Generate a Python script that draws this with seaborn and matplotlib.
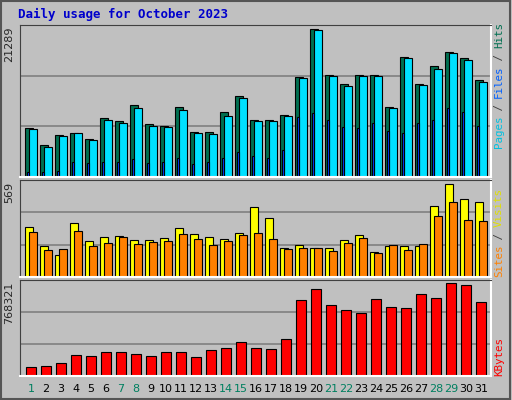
import numpy as np
import pandas as pd
import matplotlib
matplotlib.use("Agg")
import matplotlib.pyplot as plt
import seaborn as sns

days = list(range(1, 32))
k = 21289 / 440
hits_px = [146,95,125,131,113,176,168,215,158,152,209,134,134,194,242,170,170,185,299,440,305,278,305,305,209,359,278,332,374,356,290]
files_px = [143,89,122,131,110,170,161,206,152,149,200,131,128,182,236,167,167,182,296,437,302,272,302,302,206,356,275,323,371,350,284]
pages_px = [15,15,18,45,42,45,45,54,42,45,57,39,45,57,75,63,57,81,180,192,171,150,147,162,138,132,162,171,207,195,153]
hits = [round(v * k) for v in hits_px]
files = [round(v * k) for v in files_px]
pages = [round(v * k) for v in pages_px]
kv = 569 / 275
visits = [round(v * kv) for v in [149,92,65,158,107,119,122,110,110,116,143,128,119,113,131,206,173,86,95,86,86,110,125,74,92,92,92,209,275,230,221]]
sites = [round(v * kv) for v in [134,80,83,137,92,101,119,98,104,107,128,113,95,107,125,131,113,83,86,86,77,101,116,71,95,80,98,179,221,167,164]]
kb_k = 768321 / 274
kbytes = [round(v * kb_k) for v in [28,31,37,61,58,70,70,64,58,70,70,55,76,82,100,82,79,109,226,256,211,196,187,229,205,202,244,232,274,268,220]]
weekend = {1, 7, 8, 14, 15, 21, 22, 28, 29}

sns.set_style("white")
plt.rcParams['font.family'] = ['DejaVu Sans Mono', 'DejaVu Sans']

fig = plt.figure(figsize=(5.12, 4.0), dpi=100)
fig.patch.set_facecolor('#c0c0c0')
fig.patches.append(plt.Rectangle((0.002, 0.003), 0.994, 0.994, transform=fig.transFigure,
                                 fill=False, edgecolor='#555555', lw=1.5))

L, W = 20/512, 471/512
ax1 = fig.add_axes([L, 1-177/400, W, 152/400])
ax2 = fig.add_axes([L, 1-277/400, W, 97/400])
ax3 = fig.add_axes([L, 1-376/400, W, 96/400])

d = np.array(days, dtype=float)

def bars(ax, x, y, color, width):
    sns.barplot(x=x, y=y, native_scale=True, width=width, color=color,
                edgecolor='black', linewidth=0.8, ax=ax, saturation=1)

bars(ax1, d - 0.13, hits, '#006f50', 0.51)
bars(ax1, d + 0.13, files, '#00e0ff', 0.51)
bars(ax1, d - 0.18, pages, '#0040ff', 0.16)
bars(ax2, d - 0.13, visits, '#ffff00', 0.51)
bars(ax2, d + 0.13, sites, '#ff8000', 0.51)
bars(ax3, d, kbytes, '#ff0000', 0.7)

ylims = [21289*453/440, 569*286/275, 768321*284/274]
for ax, ym in zip([ax1, ax2, ax3], ylims):
    ax.set_facecolor('#c0c0c0')
    ax.set_xlim(0.27, 31.67)
    ax.set_ylim(0, ym)
    for f in (1/3, 2/3):
        ax.axhline(ym*f, color='#808080', lw=1.2, zorder=0)
    ax.set_xticks([]); ax.set_yticks([])
    ax.set_xlabel(''); ax.set_ylabel('')
    for s in ('left', 'top'):
        ax.spines[s].set_color('#404040')
    for s in ('right', 'bottom'):
        ax.spines[s].set_color('white')
        ax.spines[s].set_linewidth(1.5)

fig.text(18/512, 1-8/400, 'Daily usage for October 2023', color='#0000cc',
         fontsize=9, fontweight='bold', va='top', ha='left')

for y_top, lab in [(27, '21289'), (182, '569'), (282, '768321')]:
    fig.text(9/512, 1-y_top/400, lab, rotation=90, fontsize=8, va='top', ha='center',
             family=['DejaVu Sans'])

def right_label(y_bottom, parts):
    y = 1 - y_bottom/400
    for txt, col in parts:
        fig.text(499/512, y, txt, rotation=90, fontsize=7.8, color=col,
                 va='bottom', ha='center')
        y += len(txt) * 6.25/400

right_label(148, [('Pages', '#00c0e0'), (' / ', '#404040'), ('Files', '#0060ff'),
                  (' / ', '#404040'), ('Hits', '#006f50')])
right_label(277, [('Sites', '#ff8000'), (' / ', '#404040'), ('Visits', '#e0e000')])
right_label(376, [('KBytes', '#ff0000')])

for dd in days:
    x = L + W * (dd - 0.27) / (31.67 - 0.27)
    fig.text(x, 1-389/400, str(dd), fontsize=8, ha='center', va='center',
             color='#008060' if dd in weekend else 'black', family=['DejaVu Sans'])

fig.savefig('out.png', dpi=100, facecolor=fig.get_facecolor())
